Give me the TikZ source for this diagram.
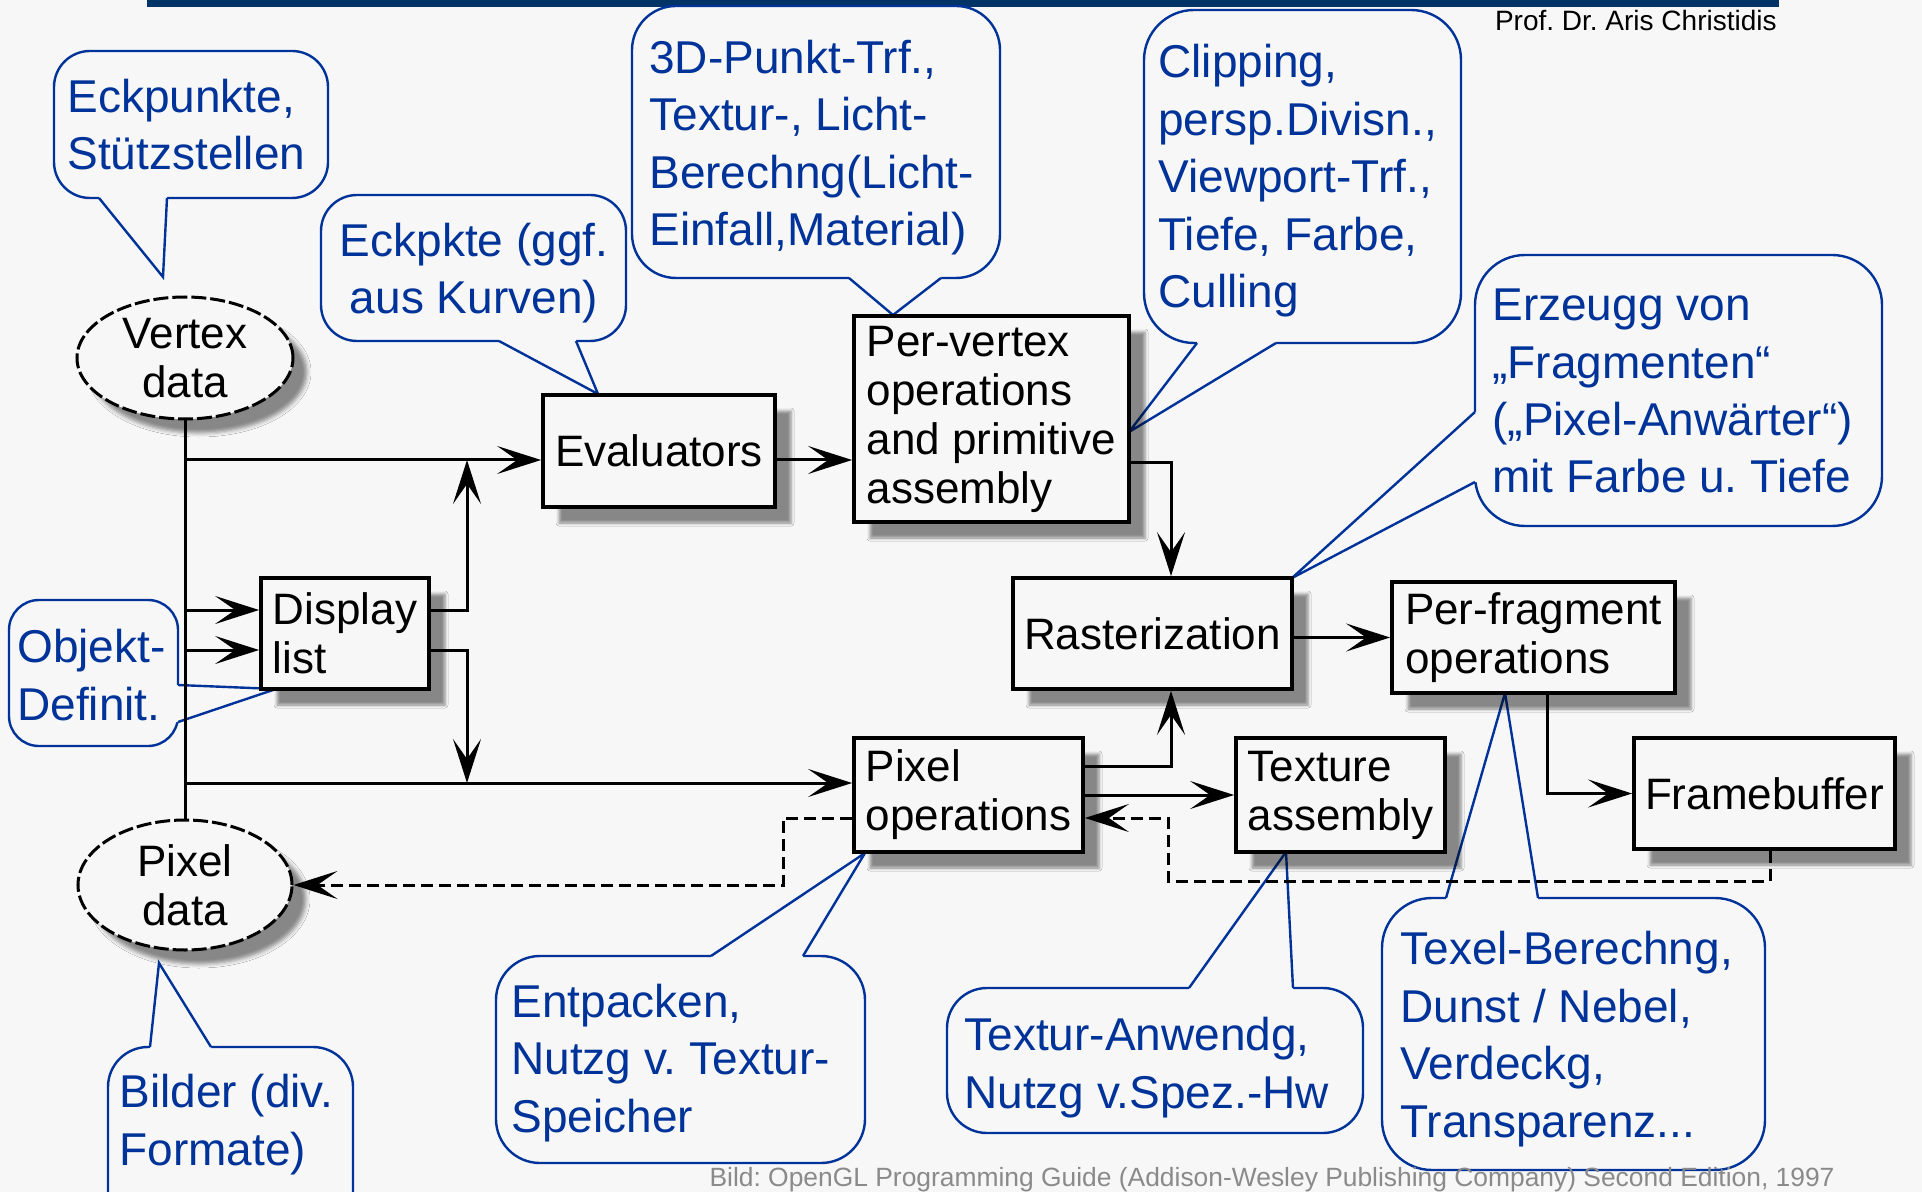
\documentclass[tikz,border=0pt]{standalone}
\usepackage{fontspec}
\setmainfont{Liberation Sans}
\usepackage{xcolor}
\usetikzlibrary{arrows.meta,shapes.geometric,shadows.blur}
\frenchspacing
\definecolor{bgray}{HTML}{F7F7F7}
\definecolor{callblue}{HTML}{003399}
\definecolor{barblue}{HTML}{003366}
\definecolor{footgray}{HTML}{8A8A8A}
\tikzset{
	block/.style={draw, line width=1.9pt, fill=bgray, align=left, inner sep=0pt,
			font=\fontsize{22}{24.5}\selectfont,
			blur shadow={shadow xshift=8pt, shadow yshift=-8pt, shadow blur radius=1.5pt, shadow opacity=45}},
	datanode/.style={ellipse, draw, line width=1.5pt, dash pattern=on 7.5pt off 2pt, fill=bgray,
			align=center, inner sep=0pt, font=\fontsize{22}{24.5}\selectfont,
			blur shadow={shadow xshift=7pt, shadow yshift=-7pt, shadow blur radius=2pt, shadow opacity=45}},
	arr/.style={line width=1.5pt, -{Stealth[length=22pt,width=14pt,inset=10pt]}},
	back/.style={arr, dash pattern=on 6pt off 3pt},
	callout/.style={draw=callblue, line width=1.2pt, fill=bgray},
	calltext/.style={text=callblue, align=left, inner sep=0pt, font=\fontsize{23}{28.75}\selectfont}
}
\begin{document}
\begin{tikzpicture}[x=0.5pt,y=-0.5pt]
    \useasboundingbox (0,0) rectangle (1922,1192);
    \fill[bgray] (0,0) rectangle (1922,1192);
    \fill[barblue] (147,0) rectangle (1779,7);
    \node[anchor=base east, inner sep=0pt, font=\fontsize{14}{16}\selectfont] (prof) at (1777,31) {Prof. Dr. Aris Christidis};

    \draw[callout, rounded corners=18pt] (54,51) rectangle (328,198);
    \fill[bgray] (99,194) -- (99,198) -- (163,277) -- (167,198) -- (167,194) -- cycle;
    \draw[callout, fill=none] (99,198) -- (163,277) -- (167,198);
    \node[calltext, anchor=base west] (tEck) at (67,170) {Eckpunkte,\\Stützstellen};

    \draw[callout, rounded corners=18pt] (321,195) rectangle (626,341);
    \fill[bgray] (499,337) -- (499,341) -- (598,394) -- (576,341) -- (576,337) -- cycle;
    \draw[callout, fill=none] (499,341) -- (598,394) -- (576,341);
    \node[calltext, align=center, anchor=base] (tKurv) at (474,314) {Eckpkte (ggf.\\aus Kurven)};

    \draw[callout, rounded corners=22pt] (632,6) rectangle (1000,278);
    \fill[bgray] (849,274) -- (849,278) -- (893,315) -- (941,278) -- (941,274) -- cycle;
    \draw[callout, fill=none] (849,278) -- (893,315) -- (941,278);
    \node[calltext, anchor=base west] (tLicht) at (649,246) {3D-Punkt-Trf.,\\Textur-, Licht-\\Berechng(Licht-\\Einfall,Material)};

    \draw[callout, rounded corners=25pt] (1144,10) rectangle (1461,343);
    \fill[bgray] (1197,339) -- (1197,343) -- (1129,432) -- (1276,343) -- (1276,339) -- cycle;
    \draw[callout, fill=none] (1197,343) -- (1129,432) -- (1276,343);
    \node[calltext, anchor=base west] (tClip) at (1158,308) {Clipping,\\persp.Divisn.,\\Viewport-Trf.,\\Tiefe, Farbe,\\Culling};

    \draw[callout, rounded corners=25pt] (1475,255) rectangle (1882,526);
    \fill[bgray] (1479,412) -- (1475,412) -- (1292,578) -- (1475,482) -- (1479,482) -- cycle;
    \draw[callout, fill=none] (1475,412) -- (1292,578) -- (1475,482);
    \node[calltext, anchor=base west] (tFrag) at (1492,493) {Erzeugg von\\„Fragmenten“\\(„Pixel-Anwärter“)\\mit Farbe u. Tiefe};

    \draw[callout, rounded corners=15pt] (9,600) rectangle (178,746);
    \fill[bgray] (174,685) -- (178,685) -- (276,689) -- (178,722) -- (174,722) -- cycle;
    \draw[callout, fill=none] (178,685) -- (276,689) -- (178,722);
    \node[calltext, anchor=base west] (tObj) at (17,720) {Objekt-\\Definit.};

    \draw[callout, rounded corners=20pt] (108,1047) rectangle (353,1240);
    \fill[bgray] (150,1051) -- (150,1047) -- (159,963) -- (211,1047) -- (211,1051) -- cycle;
    \draw[callout, fill=none] (150,1047) -- (159,963) -- (211,1047);
    \node[calltext, anchor=base west] (tBild) at (119,1165) {Bilder (div.\\Formate)};

    \draw[callout, rounded corners=22pt] (496,956) rectangle (865,1163);
    \fill[bgray] (711,960) -- (711,956) -- (865,853) -- (803,956) -- (803,960) -- cycle;
    \draw[callout, fill=none] (711,956) -- (865,853) -- (803,956);
    \node[calltext, anchor=base west] (tEntp) at (511,1132) {Entpacken,\\Nutzg v. Textur-\\Speicher};

    \draw[callout, rounded corners=20pt] (947,988) rectangle (1363,1133);
    \fill[bgray] (1189,992) -- (1189,988) -- (1286,852) -- (1293,988) -- (1293,992) -- cycle;
    \draw[callout, fill=none] (1189,988) -- (1286,852) -- (1293,988);
    \node[calltext, anchor=base west] (tTexA) at (964,1108) {Textur-Anwendg,\\Nutzg v.Spez.-Hw};

    \draw[callout, rounded corners=25pt] (1382,898) rectangle (1765,1170);
    \fill[bgray] (1446,902) -- (1446,898) -- (1505,693) -- (1538,898) -- (1538,902) -- cycle;
    \draw[callout, fill=none] (1446,898) -- (1505,693) -- (1538,898);
    \node[calltext, anchor=base west] (tTexel) at (1400,1137) {Texel-Berechng,\\Dunst / Nebel,\\Verdeckg,\\Transparenz...};

    \node[datanode, minimum width=108pt, minimum height=61pt] (vdata) at (185,358) {Vertex\\data};
    \node[datanode, minimum width=107pt, minimum height=65pt] (pdata) at (185,885) {Pixel\\data};
    \node[block, minimum width=116pt, minimum height=56pt] (evals) at (659,451) {Evaluators};
    \node[block, minimum width=137.5pt, minimum height=103pt] (pvert) at (991.5,419) {Per-vertex\\operations\\and primitive\\assembly};
    \node[block, minimum width=84pt, minimum height=55.5pt] (dlist) at (345,633.5) {Display\\list};
    \node[block, minimum width=139.5pt, minimum height=55.5pt] (raster) at (1152.5,633.5) {Rasterization};
    \node[block, minimum width=141.5pt, minimum height=55.5pt] (pfrag) at (1533.5,637.5) {Per-fragment\\operations};
    \node[block, minimum width=114.5pt, minimum height=57pt] (pixops) at (968.5,795) {Pixel\\operations};
    \node[block, minimum width=104.5pt, minimum height=57pt] (texasm) at (1340.5,795) {Texture\\assembly};
    \node[block, minimum width=130.5pt, minimum height=55.5pt] (fbuf) at (1764.5,793.5) {Framebuffer};

    \coordinate (jv) at (185,460);
    \coordinate (jd1) at (185,610);
    \coordinate (jd2) at (185,650);
    \coordinate (jp) at (185,783);
    \coordinate (up) at (467,460);
    \coordinate (dn) at (467,783);
    \coordinate (kr) at (1171,463);
    \coordinate (kp) at (1171,766);
    \coordinate (kf) at (1547,794);
    \coordinate (tb) at (1168,818);
    \coordinate (db) at (1770,881);
    \coordinate (pd) at (783,818);

    \draw[line width=1.5pt] (vdata.south) -- (pdata.north);
    \draw[arr] (jv) -- (jv -| evals.west);
    \draw[arr] (jd1) -- (jd1 -| dlist.west);
    \draw[arr] (jd2) -- (jd2 -| dlist.west);
    \draw[arr] (jp) -- (jp -| pixops.west);
    \draw[arr] (jd1 -| dlist.east) -| (up);
    \draw[arr] (jd2 -| dlist.east) -| (dn);
    \draw[arr] (evals.east |- jv) -- (pvert.west |- jv);
    \draw[arr] (pvert.east |- kr) -| (raster.north -| kr);
    \draw[arr] (pixops.east |- kp) -| (raster.south -| kp);
    \draw[arr] (raster.east |- pfrag) -- (pfrag.west);
    \draw[arr] (pfrag.south -| kf) |- (fbuf.west);
    \draw[arr] (pixops.east) -- (texasm.west);
    \draw[back] (fbuf.south -| db) -- (db) -- (db -| tb) -- (tb) -- (tb -| pixops.east);
    \draw[back] (pixops.west |- pd) -- (pd) |- (pdata.east);

    \node[anchor=base east, inner sep=0pt, text=footgray, font=\fontsize{13.2}{15}\selectfont] (credit) at (1835,1186) {Bild: OpenGL Programming Guide (Addison-Wesley Publishing Company) Second Edition, 1997};
\end{tikzpicture}
\end{document}
